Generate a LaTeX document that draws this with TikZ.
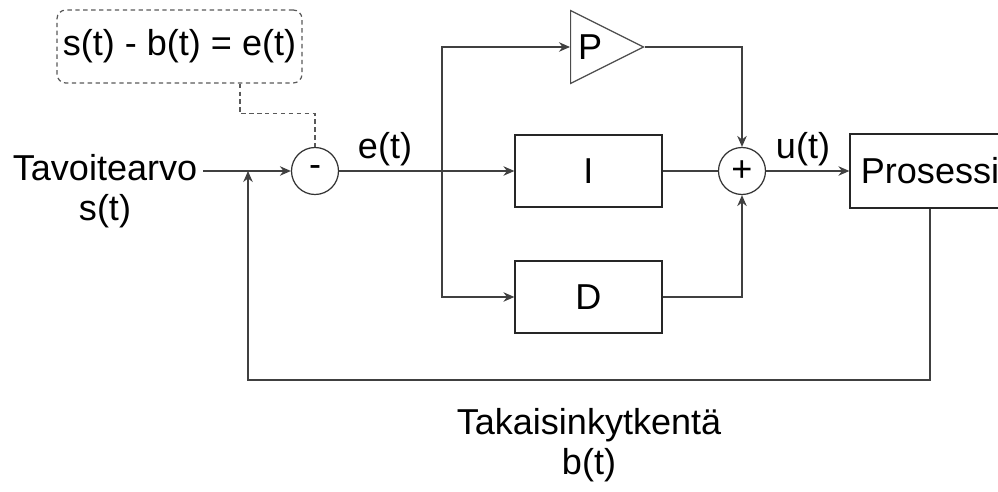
\documentclass[tikz,border=0pt]{standalone}
\usepackage{fontspec}
\setmainfont{Liberation Sans}
\usetikzlibrary{arrows.meta,calc,shapes.geometric}

\begin{document}
\begin{tikzpicture}[
  font=\fontsize{20.5pt}{23pt}\selectfont,
  wire/.style={draw=black!75, line width=0.7pt},
  arrow/.style={wire, -{Stealth[length=2.2mm, width=1.9mm]}},
  block/.style={draw=black!85, line width=0.7pt, minimum width=2.94cm, minimum height=1.44cm},
  junc/.style={circle, draw=black!80, line width=0.7pt, minimum size=0.94cm, inner sep=0pt},
  gain/.style={isosceles triangle, isosceles triangle stretches, draw=black!70, line width=0.7pt,
    minimum width=1.46cm, minimum height=1.46cm, inner sep=0pt},
  note/.style={draw=black!65, line width=0.7pt, dash pattern=on 2.5pt off 2pt, rounded corners=5pt,
    minimum width=4.9cm, minimum height=1.46cm},
  notelink/.style={draw=black!65, line width=0.7pt, dash pattern=on 2.5pt off 2pt},
]
\useasboundingbox (0,0) rectangle (19.96,9.84);
\clip (0,0) rectangle (19.96,9.84);

% === ERROR NOTE ===
\node[note] (note) at (3.59,8.91) {s(t) - b(t) = e(t)};

% === BLOCKS ===
\node[align=center] (setp) at (2.1,6.02) {Tavoitearvo\\s(t)};
\node[junc] (sum) at (6.3,6.42) {-};
\node (err) at (7.7,6.86) {e(t)};
\coordinate (br) at (8.84,6.42);
\node[gain, anchor=west] (P) at (11.4,8.9) {P};
\node[block] (I) at (11.77,6.42) {I};
\node[block] (D) at (11.77,3.9) {D};
\node[junc] (add) at (14.84,6.42) {+};
\node (ctl) at (16.06,6.86) {u(t)};
\node[block, minimum width=3.2cm, minimum height=1.48cm] (proc) at (18.6,6.42) {Prosessi};
\coordinate (fb) at (4.96,2.24);

% === CONNECTIONS ===
\draw[notelink] ([xshift=1.21cm]note.south) |- ([yshift=0.66cm]sum.north) -- (sum.north);
\draw[arrow] (setp.east |- sum.west) -- (sum.west);
\draw[arrow] (sum.east) -- (I.west);
\draw[arrow] (br) |- (P.west);
\draw[arrow] (br) |- (D.west);
\draw[wire] (I.east) -- (add.west);
\draw[arrow] (P.east) -| (add.north);
\draw[arrow] (D.east) -| (add.south);
\draw[arrow] (add.east) -- (proc.west);

% feedback path
\draw[arrow] (proc.south) |- (fb) -- (fb |- sum.west);
\node[align=center] (fbtext) at ($(fb)!0.5!(proc.south |- fb)+(0,-1.3)$) {Takaisinkytkentä\\b(t)};
\end{tikzpicture}
\end{document}
